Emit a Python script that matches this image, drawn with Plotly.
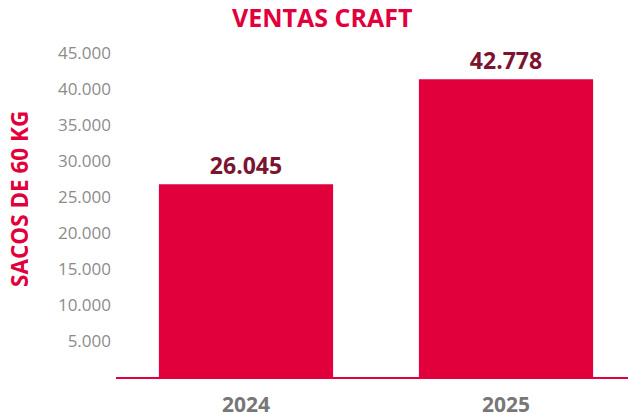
import plotly.graph_objects as go

categories = ["2024", "2025"]
bar_heights = [26800, 41400]          # heights as drawn in the picture
bar_labels = ["26.045", "42.778"]     # printed value labels
tick_vals = [5000, 10000, 15000, 20000, 25000, 30000, 35000, 40000, 45000]
tick_text = ["5.000", "10.000", "15.000", "20.000", "25.000", "30.000", "35.000", "40.000", "45.000"]

RED = "#E2003C"
DARK = "#7B1430"
FONT = "Open Sans"

# page offset of the plot div (body margin) is 8px
OFF = 8
PL, PR, PT, PB = 116, 636, 39, 377  # plot area in page pixels
PW, PH = PR - PL, PB - PT

fig = go.Figure(go.Bar(
    x=categories, y=bar_heights, text=bar_labels,
    textposition="outside", cliponaxis=False,
    textfont=dict(family=FONT, size=23, color=DARK, weight="bold"),
    marker=dict(color=RED, line=dict(width=0)),
    width=0.67,
))

fig.update_layout(
    width=636 - OFF, height=414 - OFF,
    margin=dict(l=PL - OFF, r=0, t=PT - OFF, b=414 - PB),
    paper_bgcolor="white", plot_bgcolor="white",
    showlegend=False,
    xaxis=dict(showline=True, linecolor=RED, linewidth=2, ticks="",
               tickfont=dict(family=FONT, size=21, color="#777777", weight="bold"),
               ticklabelstandoff=8, showgrid=False, automargin=False),
    yaxis=dict(range=[0, 47000], tickvals=tick_vals, ticktext=tick_text,
               showgrid=False, zeroline=False, showline=False, ticks="",
               tickfont=dict(family=FONT, size=17, color="#8c8c8c"),
               ticklabelstandoff=4, automargin=False),
    annotations=[
        dict(text="VENTAS CRAFT", xref="paper", yref="paper",
             x=(322 - PL) / PW, y=1 + (PT - 17) / PH, xanchor="center", yanchor="middle",
             showarrow=False, font=dict(family=FONT, size=25, color=RED, weight="bold")),
        dict(text="SACOS DE 60 KG", xref="paper", yref="paper",
             x=(19 - PL) / PW, y=(PB - 199) / PH, xanchor="center", yanchor="middle",
             textangle=-90, showarrow=False,
             font=dict(family=FONT, size=22.5, color=RED, weight="bold")),
    ],
)

fig.write_html("out.html")
